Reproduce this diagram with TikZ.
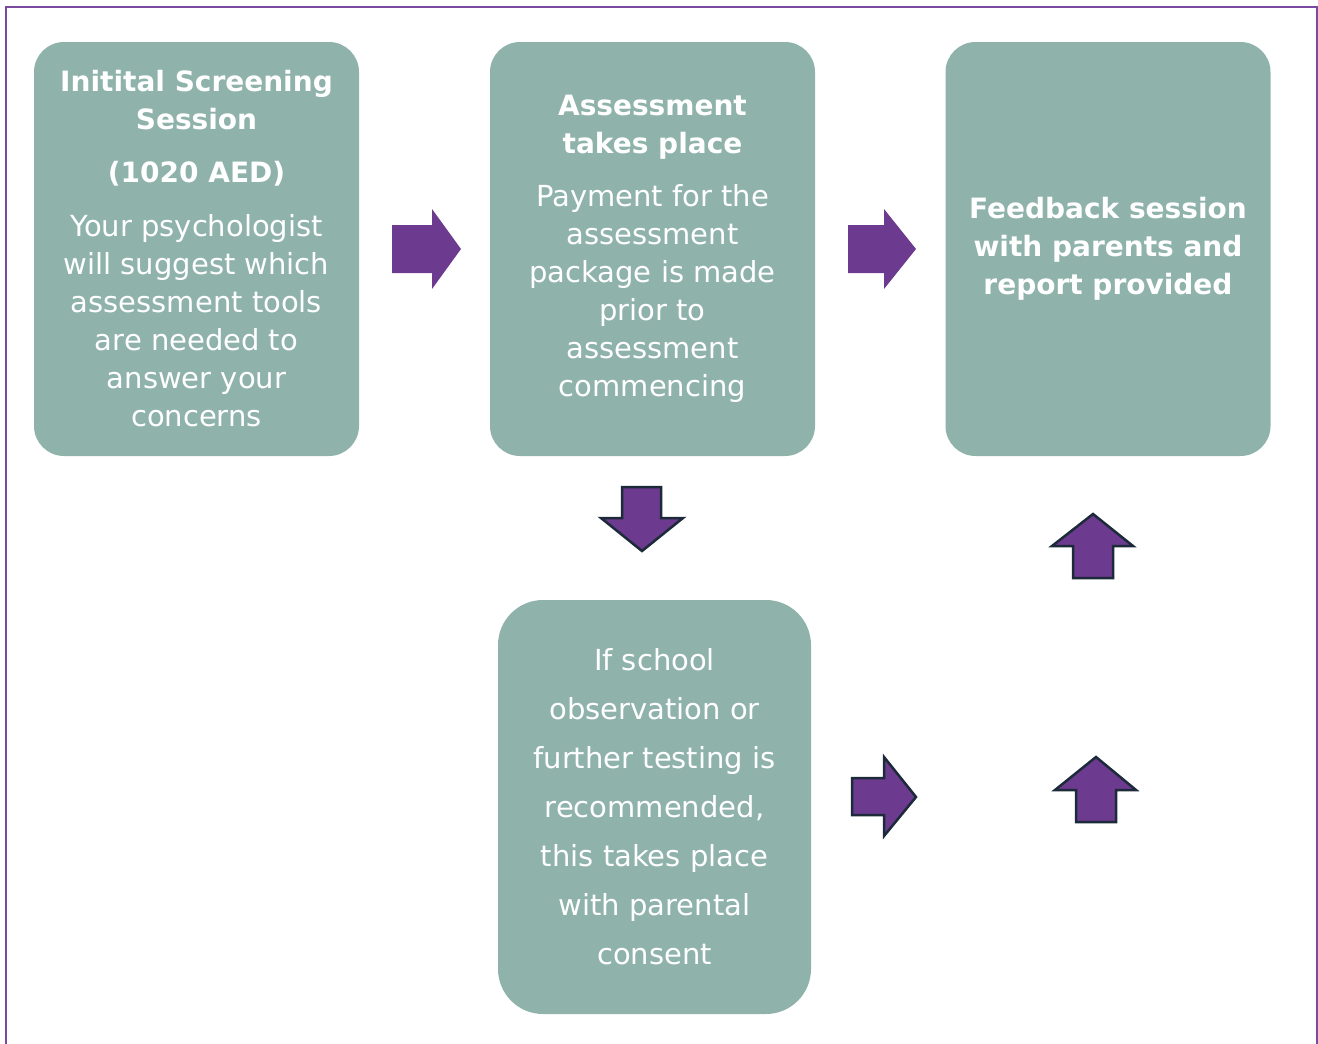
\documentclass[tikz,border=0pt]{standalone}
\usepackage{fontspec}
\setmainfont{DejaVu Sans}
\definecolor{boxc}{HTML}{8FB3AA}
\definecolor{arr}{HTML}{6C3A8E}
\definecolor{arred}{HTML}{1C2A3A}
\definecolor{framec}{HTML}{7B4A9E}
\newcommand{\bt}[1]{{\fontsize{28}{38}\selectfont\bfseries #1}}
\begin{document}
\begin{tikzpicture}[x=1pt,y=-1pt,
  box/.style={fill=boxc, rounded corners=30pt, text=white, align=center, inner sep=0pt,
    minimum width=325pt, minimum height=414pt, font=\fontsize{29}{38}\selectfont},
  arrplain/.style={fill=arr},
  arrline/.style={fill=arr, draw=arred, line width=2.5pt, line join=miter}]
\useasboundingbox (0,0) rectangle (1318,1044);
\draw[framec, line width=1.2pt] (6,1050) -- (6,7) -- (1317,7) -- (1317,1050);

\node[box] (b1) at (196.5,249) {\bt{Initital Screening}\\\bt{Session}\\[15pt]\bt{(1020 AED)}\\[16pt]Your psychologist\\will suggest which\\assessment tools\\are needed to\\answer your\\concerns};
\node[box] (b2) at (652.5,249) {\bt{Assessment}\\\bt{takes place}\\[15pt]Payment for the\\assessment\\package is made\\prior to\\assessment\\commencing};
\node[box] (b3) at (1108,249) {\bt{Feedback session}\\\bt{with parents and}\\\bt{report provided}};
\node[box, rounded corners=45pt, minimum width=313pt, font=\fontsize{29}{49}\selectfont] (b4) at (654.5,807) {If school\\observation or\\further testing is\\recommended,\\this takes place\\with parental\\consent};

\fill[arrplain] (392,225) -- (432,225) -- (432,209) -- (461,249) -- (432,289) -- (432,273) -- (392,273) -- cycle;
\fill[arrplain] (848,225) -- (884,225) -- (884,209) -- (916,249) -- (884,289) -- (884,273) -- (848,273) -- cycle;
\filldraw[arrline] (622,487) -- (661,487) -- (661,518) -- (683,518) -- (642,551) -- (601,518) -- (622,518) -- cycle;
\filldraw[arrline] (852,778) -- (884,778) -- (884,757) -- (916,797) -- (884,836) -- (884,815) -- (852,815) -- cycle;
\filldraw[arrline] (1093,514) -- (1133,546) -- (1113,546) -- (1113,578) -- (1073,578) -- (1073,546) -- (1052,546) -- cycle;
\filldraw[arrline] (1096,757) -- (1136,790) -- (1116,790) -- (1116,822) -- (1076,822) -- (1076,790) -- (1055,790) -- cycle;
\end{tikzpicture}
\end{document}
